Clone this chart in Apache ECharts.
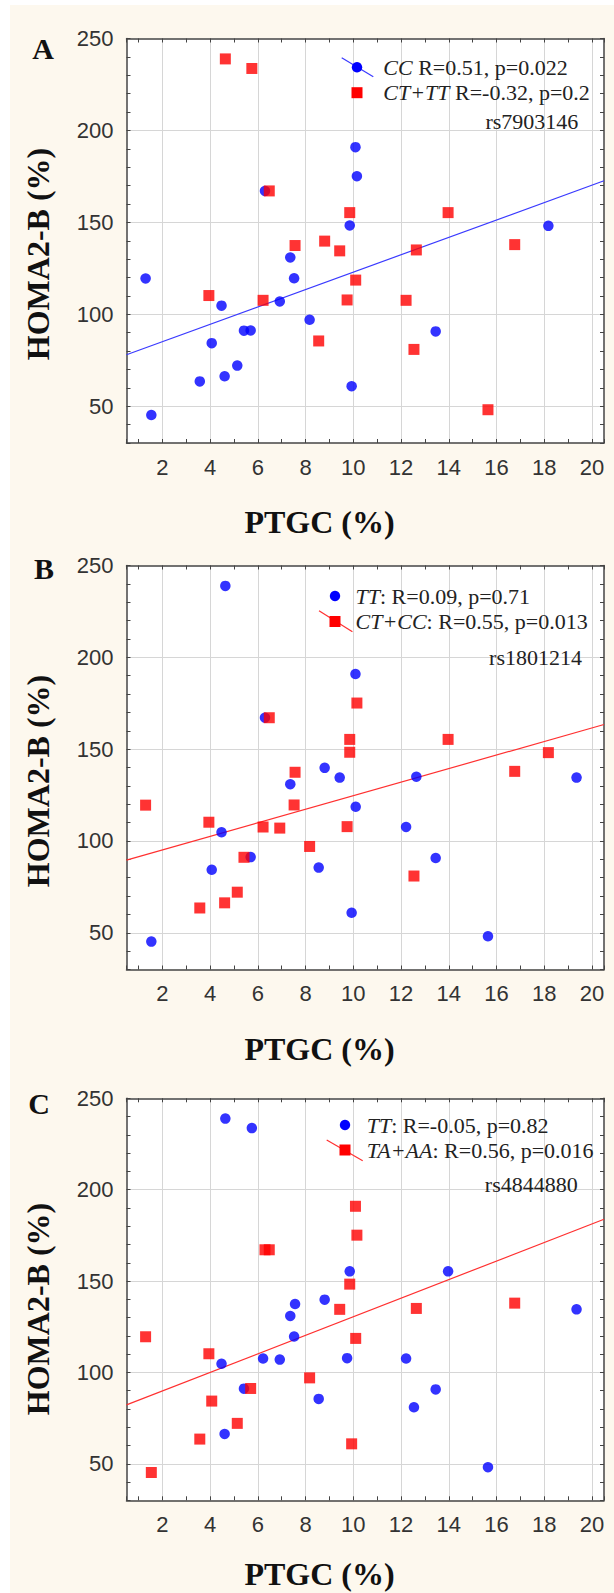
<!DOCTYPE html>
<html><head><meta charset="utf-8">
<script src="https://cdn.jsdelivr.net/npm/echarts@6/dist/echarts.min.js"></script>
<style>
html,body{margin:0;padding:0;background:#fff;}
#bg{position:absolute;left:10px;top:5px;width:604px;height:1588px;background:#fdf8ee;}
#c{position:absolute;left:0;top:0;width:614px;height:1593px;}
</style>
</head><body><div id="bg"></div><div id="c"></div>
<script>
// ---------- data ----------
const xTickLabels = [2,4,6,8,10,12,14,16,18,20];
const yTickLabels = [50,100,150,200,250];
const panelLetters = ['A','B','C'];
const xTitle = 'PTGC (%)';
const yTitle = 'HOMA2-B (%)';

// Panel A: rs7903146
const A_CC = [[1.30,119.5],[1.54,45.2],[3.57,63.5],[4.07,84.3],[4.48,104.7],[4.61,66.3],[5.14,72.1],[5.42,91.1],[5.70,91.2],[6.30,167.1],[6.92,107.0],[7.36,130.9],[7.52,119.6],[8.17,97.0],[9.85,148.3],[9.93,60.9],[10.09,190.9],[10.15,175.1],[13.45,90.7],[18.17,148.1]];
const A_CTTT = [[4.64,238.9],[5.75,233.7],[6.48,167.1],[6.22,107.6],[3.95,110.2],[7.56,137.4],[8.80,139.8],[8.55,85.5],[9.43,134.5],[9.85,155.3],[9.74,107.8],[10.10,118.6],[12.21,107.6],[12.64,135.0],[12.54,80.9],[13.97,155.3],[15.64,48.1],[16.76,137.9]];
const A_fit = [[0.5,78.0],[20.5,172.6]];
const A_legend = ['{i|CC} R=0.51, p=0.022', '{i|CT+TT} R=-0.32, p=0.2', 'rs7903146'];

// Panel B: rs1801214
const B_TT = [[4.64,238.9],[1.54,45.2],[4.07,84.3],[4.48,104.7],[5.70,91.2],[6.30,167.1],[7.36,130.9],[8.80,139.8],[9.43,134.5],[8.55,85.5],[10.09,190.9],[10.10,118.6],[9.93,60.9],[12.21,107.6],[12.64,135.0],[13.45,90.7],[15.64,48.1],[19.35,134.5]];
const B_CTCC = [[1.30,119.5],[3.95,110.2],[3.57,63.5],[4.61,66.3],[5.14,72.1],[5.42,91.1],[6.48,167.1],[6.22,107.6],[6.92,107.0],[7.56,137.4],[7.52,119.6],[8.17,97.0],[9.85,155.3],[9.85,148.3],[9.74,107.8],[10.15,175.1],[12.54,80.9],[13.97,155.3],[16.76,137.9],[18.17,148.1]];
const B_fit = [[0.5,89.6],[20.5,163.4]];
const B_legend = ['{i|TT}: R=0.09, p=0.71', '{i|CT+CC}: R=0.55, p=0.013', 'rs1801214'];

// Panel C: rs4844880
const C_TT = [[4.64,238.9],[5.75,233.7],[4.48,104.7],[4.61,66.3],[5.42,91.1],[6.22,107.6],[6.92,107.0],[7.36,130.9],[7.56,137.4],[7.52,119.6],[8.80,139.8],[8.55,85.5],[9.85,155.3],[9.74,107.8],[12.21,107.6],[12.54,80.9],[13.45,90.7],[13.97,155.3],[15.64,48.1],[19.35,134.5]];
const C_TAAA = [[1.30,119.5],[1.54,45.2],[3.57,63.5],[3.95,110.2],[4.07,84.3],[5.14,72.1],[5.70,91.2],[6.30,167.1],[6.48,167.1],[8.17,97.0],[9.43,134.5],[9.85,148.3],[10.09,190.9],[10.15,175.1],[10.10,118.6],[9.93,60.9],[12.64,135.0],[16.76,137.9]];
const C_fit = [[0.5,82.2],[20.5,183.8]];
const C_legend = ['{i|TT}: R=-0.05, p=0.82', '{i|TA+AA}: R=0.56, p=0.016', 'rs4844880'];

// ---------- layout / style ----------
const BLUE = '#0000ff', RED = '#ff0000';
const panels = [
  {blue:A_CC, red:A_CTTT, fit:A_fit, fitColor:'#3a3aff', legend:A_legend,
   top:38.5, height:404.5, letter:[43,48], title:522, ytitle:254,
   leg:{mx:357, y1:67.3, y2:92.7, tx:383.3, rsx:578.3, rsy:121.7, line:[341.7,57.7,373.3,76.7]}},
  {blue:B_TT, red:B_CTCC, fit:B_fit, fitColor:'#ff3030', legend:B_legend,
   top:565.5, height:404, letter:[44,568], title:1048.5, ytitle:781,
   leg:{mx:335, y1:596, y2:621.5, tx:355.5, rsx:582, rsy:657.7, line:[319,610.7,352.4,631.7]}},
  {blue:C_TT, red:C_TAAA, fit:C_fit, fitColor:'#ff3030', legend:C_legend,
   top:1098.3, height:402, letter:[39,1103], title:1574, ytitle:1309,
   leg:{mx:345, y1:1125, y2:1150, tx:366.7, rsx:577.7, rsy:1184, line:[326.7,1140,362.7,1160.7]}}
];
const GRID_LEFT = 126.5, GRID_W = 477.5;
const AX = '#444', GRIDC = '#d6d6d6';
const labelStyle = {fontFamily:'Liberation Sans', fontSize:22, color:'#333'};

const grid = [], xAxis = [], yAxis = [], series = [], graphic = [];
panels.forEach((p, i) => {
  grid.push({left:GRID_LEFT, top:p.top, width:GRID_W, height:p.height, show:true,
             backgroundColor:'#fff', borderWidth:0});
  xAxis.push({gridIndex:i, type:'value', min:0.5, max:20.5, minInterval:2, maxInterval:2, position:'bottom',
    axisLine:{show:false}, axisTick:{show:false},
    axisLabel:Object.assign({margin:13, formatter:v => xTickLabels.includes(v) ? String(v) : ''}, labelStyle),
    splitLine:{show:true, showMinLine:false, showMaxLine:false, lineStyle:{color:GRIDC, width:1}}});
  ['bottom','top'].forEach(pos => xAxis.push({gridIndex:i, type:'value', min:0.5, max:20.5, minInterval:1, maxInterval:1,
    position:pos, axisLine:{show:true, onZero:false, lineStyle:{color:AX, width:1.5}},
    axisTick:{show:true, inside:true, length:4, lineStyle:{color:AX, width:1}},
    axisLabel:{show:false}, splitLine:{show:false}}));
  yAxis.push({gridIndex:i, type:'value', min:30, max:250, minInterval:50, maxInterval:50, position:'left',
    axisLine:{show:false}, axisTick:{show:false},
    axisLabel:Object.assign({margin:13, formatter:v => yTickLabels.includes(v) ? String(v) : ''}, labelStyle),
    splitLine:{show:true, showMinLine:false, showMaxLine:false, lineStyle:{color:GRIDC, width:1}}});
  ['left','right'].forEach(pos => yAxis.push({gridIndex:i, type:'value', min:30, max:250, interval:10,
    position:pos, axisLine:{show:true, onZero:false, lineStyle:{color:AX, width:1.5}},
    axisTick:{show:true, inside:true, length:4, lineStyle:{color:AX, width:1}},
    axisLabel:{show:false}, splitLine:{show:false}}));

  const xi = i*3, yi = i*3;
  series.push({type:'line', xAxisIndex:xi, yAxisIndex:yi, data:p.fit, symbol:'none', silent:true,
    lineStyle:{color:p.fitColor, width:1.2}, z:2});
  series.push({type:'scatter', xAxisIndex:xi, yAxisIndex:yi, data:p.blue, symbol:'circle', symbolSize:10.5,
    itemStyle:{color:BLUE}, z:3});
  series.push({type:'scatter', xAxisIndex:xi, yAxisIndex:yi, data:p.red, symbol:'rect', symbolSize:11,
    itemStyle:{color:RED}, z:4});

  graphic.push({type:'text', x:p.letter[0], y:p.letter[1], z:100,
    style:{text:panelLetters[i], fontFamily:'Liberation Serif', fontWeight:'bold', fontSize:30, fill:'#111',
           align:'center', verticalAlign:'middle'}});
  graphic.push({type:'text', x:319.5, y:p.title, z:100,
    style:{text:xTitle, fontFamily:'Liberation Serif', fontWeight:'bold', fontSize:32, fill:'#111',
           align:'center', verticalAlign:'middle'}});
  graphic.push({type:'text', x:37.5, y:p.ytitle, rotation:Math.PI/2, z:100,
    style:{text:yTitle, fontFamily:'Liberation Serif', fontWeight:'bold', fontSize:32, fill:'#111',
           align:'center', verticalAlign:'middle'}});

  const L = p.leg;
  graphic.push({type:'line', z:100, shape:{x1:L.line[0], y1:L.line[1], x2:L.line[2], y2:L.line[3]},
    style:{stroke:p.fitColor, lineWidth:1.2}});
  graphic.push({type:'circle', z:101, shape:{cx:L.mx, cy:L.y1, r:5.2}, style:{fill:BLUE}});
  graphic.push({type:'rect', z:101, shape:{x:L.mx-5.5, y:L.y2-5.5, width:11, height:11}, style:{fill:RED}});
  const rich = {i:{fontStyle:'italic', fontFamily:'Liberation Serif', fontSize:22, fill:'#222'}};
  [[L.y1, p.legend[0]], [L.y2, p.legend[1]]].forEach(([y, t]) => graphic.push({type:'text', x:L.tx, y:y, z:101,
    style:{text:t, rich:rich, fontFamily:'Liberation Serif', fontSize:22, fill:'#222', align:'left', verticalAlign:'middle'}}));
  graphic.push({type:'text', x:L.rsx, y:L.rsy, z:101,
    style:{text:p.legend[2], fontFamily:'Liberation Serif', fontSize:22, fill:'#222', align:'right', verticalAlign:'middle'}});
});

const chart = echarts.init(document.getElementById('c'), null, {renderer:'svg', width:614, height:1593});
chart.setOption({animation:false, backgroundColor:'transparent', grid, xAxis, yAxis, series, graphic});
</script>
</body></html>
